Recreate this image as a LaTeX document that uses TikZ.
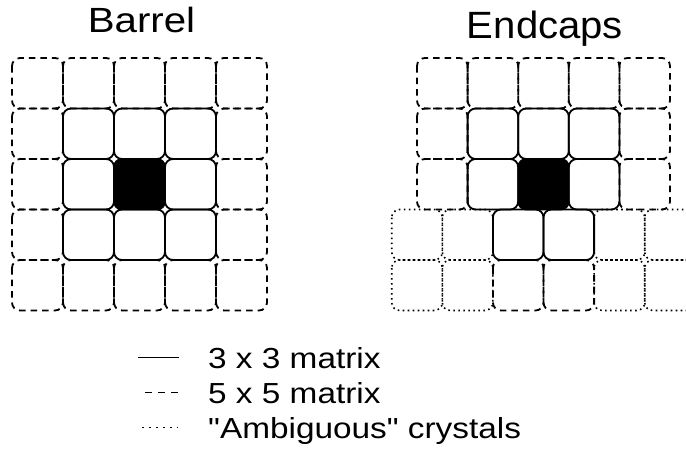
\documentclass[tikz,border=0pt]{standalone}
\usepackage{fontspec}
\setmainfont{Liberation Sans}
\newfontfamily\stretchfont[FakeStretch=1.15]{Liberation Sans}
\newfontfamily\endcapfont[FakeStretch=1.055]{Liberation Sans}
\begin{document}
\begin{tikzpicture}[x=1pt,y=-1pt,
  cellbase/.style={line width=1.8pt,rounded corners=8pt},
  solidcell/.style={cellbase,draw=black},
  dashcell/.style={cellbase,draw=black,dash pattern=on 6.5pt off 5pt},
  dotcell/.style={cellbase,draw=black,line width=1.6pt,dash pattern=on 1.6pt off 3.4pt},
  blackcell/.style={cellbase,draw=black,fill=black},
  titletext/.style={font=\stretchfont\fontsize{35}{40}\selectfont,anchor=base,inner sep=0pt},
  endtitle/.style={font=\endcapfont\fontsize{38}{42}\selectfont,anchor=base,inner sep=0pt},
  legtext/.style={font=\stretchfont\fontsize{29}{34}\selectfont,anchor=base west,inner sep=0pt},
  legsolid/.style={line width=1.8pt},
  legdash/.style={line width=1.8pt,dash pattern=on 7pt off 6pt},
  legdot/.style={line width=1.8pt,dash pattern=on 1.6pt off 5.4pt}]
\useasboundingbox (0,0) rectangle (686,450);
\clip (0,0) rectangle (686,450);

% ---------------- Barrel ----------------
\def\bx{12}\def\by{58}\def\cw{51}\def\ch{50.5}
\foreach \i/\j in {0/0,1/0,2/0,3/0,4/0,0/1,4/1,0/2,4/2,0/3,4/3,0/4,1/4,2/4,3/4,4/4}{
  \draw[dashcell] ({\bx+\i*\cw},{\by+\j*\ch}) rectangle ({\bx+(\i+1)*\cw},{\by+(\j+1)*\ch});
}
\foreach \i/\j in {1/1,2/1,3/1,1/2,3/2,1/3,2/3,3/3}{
  \draw[solidcell] ({\bx+\i*\cw},{\by+\j*\ch}) rectangle ({\bx+(\i+1)*\cw},{\by+(\j+1)*\ch});
}
\draw[blackcell] ({\bx+2*\cw},{\by+2*\ch}) rectangle ({\bx+3*\cw},{\by+3*\ch});
\node[titletext] (barrel) at (141.5,32) {Barrel};

% ---------------- Endcaps ----------------
\def\ex{417}\def\ecw{50.6}
\foreach \i/\j in {0/0,1/0,2/0,3/0,4/0,0/1,4/1,0/2,4/2}{
  \draw[dashcell] ({\ex+\i*\ecw},{\by+\j*\ch}) rectangle ({\ex+(\i+1)*\ecw},{\by+(\j+1)*\ch});
}
\def\sx{391.7}
\foreach \i in {0,1,4,5}{
  \foreach \j in {3,4}{
    \draw[dotcell] ({\sx+\i*\ecw},{\by+\j*\ch}) rectangle ({\sx+(\i+1)*\ecw},{\by+(\j+1)*\ch});
  }
}
\foreach \i in {2,3}{
  \draw[dashcell] ({\sx+\i*\ecw},{\by+4*\ch}) rectangle ({\sx+(\i+1)*\ecw},{\by+5*\ch});
  \draw[solidcell] ({\sx+\i*\ecw},{\by+3*\ch}) rectangle ({\sx+(\i+1)*\ecw},{\by+4*\ch});
}
\foreach \i/\j in {1/1,2/1,3/1,1/2,3/2}{
  \draw[solidcell] ({\ex+\i*\ecw},{\by+\j*\ch}) rectangle ({\ex+(\i+1)*\ecw},{\by+(\j+1)*\ch});
}
\draw[blackcell] ({\ex+2*\ecw},{\by+2*\ch}) rectangle ({\ex+3*\ecw},{\by+3*\ch});
\node[endtitle] (endcaps) at (545,38) {Endcaps};

% ---------------- Legend ----------------
\coordinate (s1) at (138,357.5); \coordinate (s2) at (179,357.5);
\coordinate (d1) at (145,392.5); \coordinate (d2) at (178,392.5);
\coordinate (o1) at (142,427.5); \coordinate (o2) at (178,427.5);
\draw[legsolid] (s1) -- (s2);
\draw[legdash] (d1) -- (d2);
\draw[legdot] (o1) -- (o2);
\node[legtext] (l1) at (208,368) {3 x 3 matrix};
\node[legtext] (l2) at (208,403) {5 x 5 matrix};
\node[legtext] (l3) at (208,438) {"Ambiguous" crystals};
\end{tikzpicture}
\end{document}
